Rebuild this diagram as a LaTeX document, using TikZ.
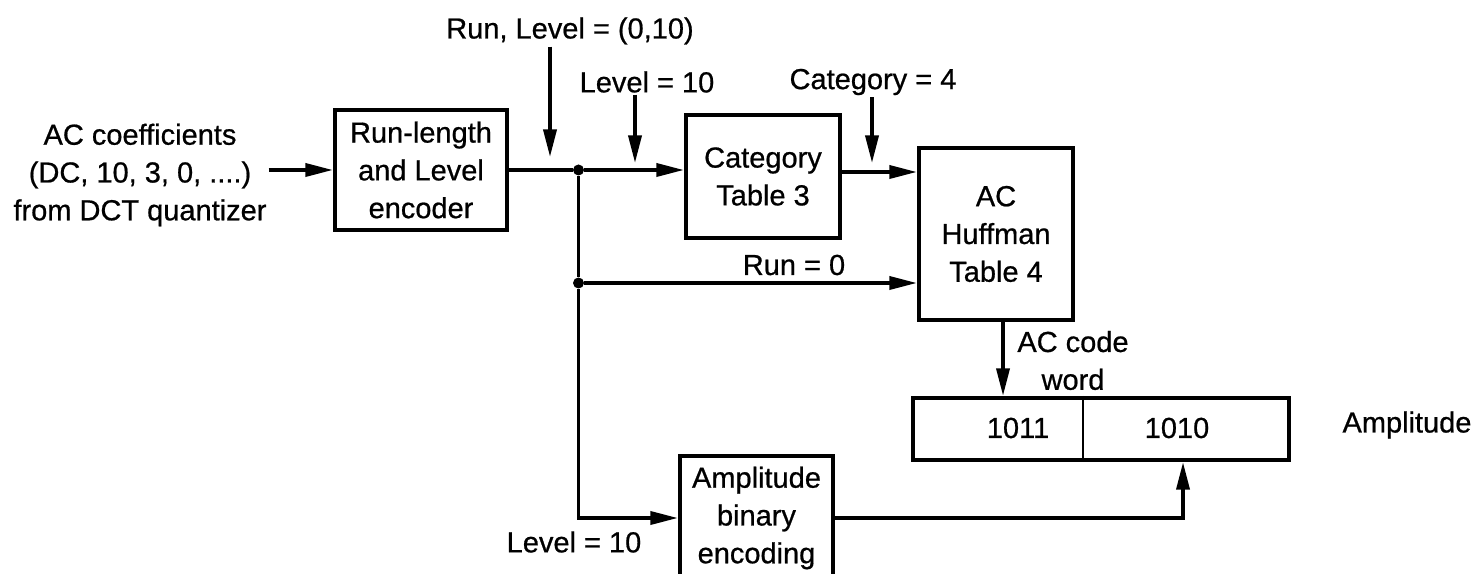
\documentclass[tikz,border=0pt]{standalone}
\usepackage{fontspec}
\setmainfont{Liberation Sans}[FakeBold=0.7]
\usetikzlibrary{arrows.meta,positioning,calc}

\begin{document}
\begin{tikzpicture}[
  font=\fontsize{16.5}{21.5}\selectfont,
  block/.style={draw, line width=2.4pt, inner sep=2pt, align=center},
  tag/.style={align=center, inner sep=1pt},
  wire/.style={line width=2pt},
  arr/.style={-{Triangle[length=5.5mm,width=2.6mm]}, line width=2pt},
  dot/.style={circle, fill, inner sep=0pt, minimum size=2.2mm}
]
  \useasboundingbox (0,0) rectangle (29.48,11.46);
  % blocks
  \node[tag] (src) at (2.80,7.96) {AC coefficients\\(DC, 10, 3, 0, ....)\\from DCT quantizer};
  \node[block, minimum width=3.44cm, minimum height=2.40cm] (enc) at (8.42,8.06) {Run-length\\and Level\\encoder};
  \node[block, minimum width=3.08cm, minimum height=2.46cm] (cat) at (15.26,7.93) {Category\\Table 3};
  \node[block, minimum width=3.08cm, minimum height=3.44cm] (huff) at (19.92,6.78) {AC\\Huffman\\Table 4};
  \node[block, minimum width=3.06cm, minimum height=2.48cm] (amp) at (15.13,1.10) {Amplitude\\binary\\encoding};
  \node[block, minimum width=7.52cm, minimum height=1.24cm] (code) at (22.02,2.88) {};
  \node[tag] (b1) at (20.36,2.90) {1011};
  \node[tag] (b2) at (23.54,2.90) {1010};
  \coordinate (div) at (21.66,0);
  \draw[line width=1pt] (code.north -| div) -- (code.south -| div);
  \node[tag] (ampl) at (28.14,2.96) {Amplitude};
  % junctions
  \node[dot] (j1) at (11.57,8.06) {};
  \node[dot] (j2) at (11.57,5.80) {};
  % signal flow
  \draw[arr] (enc.west -| src.east) -- (enc.west);
  \draw[wire] (enc.east) -- (j1);
  \draw[arr] (j1) -- (j1 -| cat.west);
  \draw[arr] ([yshift=0.9mm]cat.east) -- ([yshift=0.9mm]cat.east -| huff.west);
  \draw[wire] (j1) -- (j2);
  \draw[arr] (j2) -- (j2 -| huff.west);
  \draw[arr] (j2) |- (amp.west);
  \draw[arr] ([xshift=1.4mm]huff.south) -- ([xshift=1.4mm]huff.south |- code.north);
  \draw[arr] (amp.east) -| ([xshift=16.4mm]code.south);
  % labels
  \node[tag] (rl) at (11.40,10.84) {Run, Level = (0,10)};
  \coordinate (rlTip) at (11.00,8.32);
  \draw[arr] (rlTip |- rl.south) -- (rlTip);
  \node[tag] (lv) at (12.94,9.82) {Level = 10};
  \coordinate (lvTip) at (12.70,8.20);
  \draw[arr] (lvTip |- lv.south) -- (lvTip);
  \node[tag] (cg) at (17.46,9.82) {Category = 4};
  \coordinate (cgTip) at (17.44,8.20);
  \draw[arr] (cgTip |- cg.south) -- (cgTip);
  \node[tag] (r0) at (15.88,6.16) {Run = 0};
  \node[tag] (acw) at (21.46,4.25) {AC code\\word};
  \node[tag] (lvb) at (11.48,0.62) {Level = 10};
\end{tikzpicture}
\end{document}
